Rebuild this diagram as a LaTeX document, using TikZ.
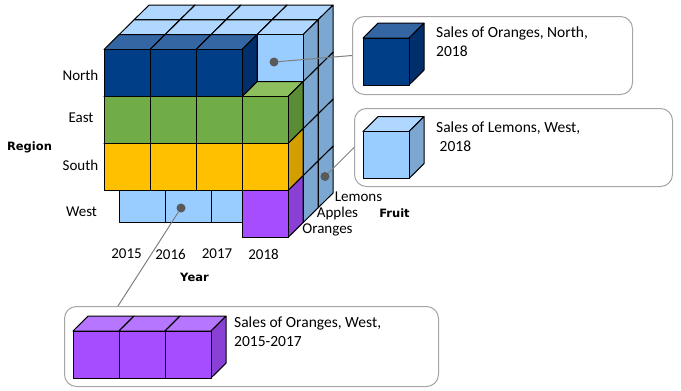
\documentclass[tikz,border=0pt]{standalone}
\usepackage{fontspec}
\setmainfont{Carlito}
\newfontfamily\titlefont{DejaVu Sans}

\definecolor{skyFront}{HTML}{99CCFF}
\definecolor{skyTop}{HTML}{B0D7FF}
\definecolor{skySide}{HTML}{7BA7D1}
\definecolor{navyFront}{HTML}{003F88}
\definecolor{navyTop}{HTML}{3466A4}
\definecolor{navySide}{HTML}{002F6C}
\definecolor{leafFront}{HTML}{70AD47}
\definecolor{leafTop}{HTML}{8EBF5F}
\definecolor{leafSide}{HTML}{5A8C35}
\definecolor{goldFront}{HTML}{FFC000}
\definecolor{goldTop}{HTML}{FFCD33}
\definecolor{goldSide}{HTML}{D39F00}
\definecolor{plumFront}{HTML}{A64DFF}
\definecolor{plumTop}{HTML}{B676FF}
\definecolor{plumSide}{HTML}{8A40D4}

\newcommand{\cubew}{46}
\newcommand{\cubeh}{47}
\newcommand{\depx}{15}
\newcommand{\depy}{14.8}
% front top-left corner, colour family
\newcommand{\datacube}[3]{%
  \filldraw[cube edge, fill=#3Top] (#1,#2) -- ++(\depx,-\depy)
    -- ++(\cubew,0) -- ++(-\depx,\depy) -- cycle;
  \filldraw[cube edge, fill=#3Side] (#1+\cubew,#2) -- ++(\depx,-\depy)
    -- ++(0,\cubeh) -- ++(-\depx,\depy) -- cycle;
  \filldraw[cube edge, fill=#3Front] (#1,#2) rectangle ++(\cubew,\cubeh);
}

\begin{document}
\begin{tikzpicture}[x=1pt, y=-1pt]
    \tikzset{
      cube edge/.style = {draw=black, line width=1pt, line join=round},
      axis label/.style = {font=\fontsize{15}{18}\selectfont, inner sep=0pt},
      axis title/.style = {font=\titlefont\bfseries\fontsize{11.5}{14}\selectfont,
      inner sep=0pt},
      callout/.style = {draw=black!35, fill=white, line width=1pt,
      rounded corners=12pt, anchor=north west, inner sep=0pt},
      callout text/.style = {font=\fontsize{15.5}{18.7}\selectfont,
      anchor=north west, align=left, inner sep=0pt},
      pin dot/.style = {circle, fill=black!65, minimum size=9pt,
      inner sep=0pt, outer sep=0pt},
      pin line/.style = {draw=black!50, line width=1pt}
    }
    \useasboundingbox (0,0) rectangle (681,391);

    % lemons and apples layers
    \foreach \k in {2,1}
      \foreach \j in {3,2,1,0}
        \foreach \i in {0,...,3} {
          \pgfmathsetmacro\cx{104+46*\i+15*\k}
          \pgfmathsetmacro\cy{49.5+47*\j-14.8*\k}
          \datacube{\cx}{\cy}{sky}
        }

    % oranges layer
    \datacube{242}{190.5}{plum}
    \foreach \i in {0,...,3} {
      \pgfmathsetmacro\cx{104+46*\i}
      \datacube{\cx}{143.5}{gold}
    }
    \foreach \i in {0,...,3} {
      \pgfmathsetmacro\cx{104+46*\i}
      \datacube{\cx}{96.5}{leaf}
    }
    \foreach \i in {0,...,2} {
      \pgfmathsetmacro\cx{104+46*\i}
      \datacube{\cx}{49.5}{navy}
    }

    \node[axis label] (north) at (80.5,75) {North};
    \node[axis label] (east) at (81,118) {East};
    \node[axis label] (south) at (80.5,165) {South};
    \node[axis label] (west) at (81.5,212) {West};
    \node[axis title] (region) at (29.5,147) {Region};

    \node[axis label] (y2015) at (126.5,254) {2015};
    \node[axis label] (y2016) at (170.5,254) {2016};
    \node[axis label] (y2017) at (217,254) {2017};
    \node[axis label] (y2018) at (263.5,254) {2018};
    \node[axis title] (year) at (194.5,277) {Year};

    \node[axis label] (lemons) at (358.5,197) {Lemons};
    \node[axis label] (apples) at (337.5,213) {Apples};
    \node[axis label] (oranges) at (327.5,230) {Oranges};
    \node[axis title] (fruit) at (394.5,213) {Fruit};

    \node[callout, minimum width=280pt, minimum height=78pt] (box1) at (352,16) {};
    \datacube{363}{38}{navy}
    \node[callout text] (text1) at (436,26.5) {Sales of Oranges, North,\\2018};

    \node[callout, minimum width=318pt, minimum height=78pt] (box2) at (354,108) {};
    \datacube{363}{131.5}{sky}
    \node[callout text] (text2) at (436,121.5) {Sales of Lemons, West,\\\ 2018};

    \node[callout, minimum width=374pt, minimum height=80pt] (box3) at (64,306) {};
    \foreach \i in {0,1,2} {
      \pgfmathsetmacro\cx{73+46*\i}
      \datacube{\cx}{331}{plum}
    }
    \node[callout text] (text3) at (234,316.5) {Sales of Oranges, West,\\2015-2017};

    \node[pin dot] (dot1) at (274,62) {};
    \node[pin dot] (dot2) at (325,176.5) {};
    \node[pin dot] (dot3) at (181,208) {};
    \coordinate (tip3) at ([xshift=54pt]box3.north west);
    \draw[pin line]
      (dot1) edge (box1.west)
      (dot2) edge (box2.west)
      (dot3) edge (tip3)
    ;
\end{tikzpicture}
\end{document}
